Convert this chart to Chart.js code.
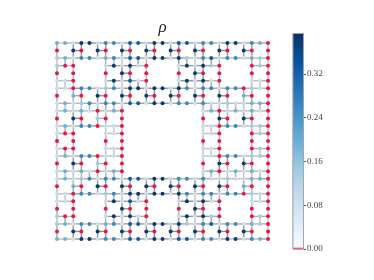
<!DOCTYPE html>
<html>
<head>
<meta charset="utf-8">
<script src="https://cdn.jsdelivr.net/npm/chart.js@4"></script>
<style>
  html, body { margin: 0; padding: 0; background: #fff; }
  #wrap { width: 374px; height: 280px; }
</style>
</head>
<body>
<div id="wrap"><canvas id="rhoChart" width="374" height="280"></canvas></div>
<script>
// density on the carpet lattice, one list per lattice row, _ = no site
const _ = null;
const row0  = [.19,.19,.09,.38,.38,.09,.26,.26,.09,.33,.33,.09,.38,.38,.09,.33,.33,.09,.26,.26,.09,.38,.38,.09,.26,.19,0];
const row1  = [0,_,.38,0,_,.38,0,_,.38,0,_,.38,0,_,.38,0,_,.38,0,_,.38,0,_,.38,0,_,0];
const row2  = [.14,.19,.09,.26,.26,.09,.19,.26,.09,.33,.33,.09,.38,.38,.09,.38,.14,.09,.26,.33,.09,.26,.26,.09,.19,.14,0];
const row3  = [.14,0,0,_,_,_,.09,.38,.09,.38,.09,0,_,_,_,.09,.38,.09,.38,.14,0,_,_,_,0,.14,0];
const row4  = [0,_,0,_,_,_,0,_,.38,0,_,0,_,_,_,0,_,.38,0,_,0,_,_,_,0,_,0];
const row5  = [.09,.09,0,_,_,_,.09,.38,.09,.33,.09,0,_,_,_,.09,.38,.09,.38,.09,0,_,_,_,.09,.09,0];
const row6  = [.09,.09,0,.26,.26,.09,.14,.26,.09,.38,.38,.09,.38,.38,.09,.38,.26,.09,.26,.26,.09,.26,.26,0,.14,.09,0];
const row7  = [0,_,.19,0,_,.38,0,_,.38,0,_,.38,0,_,.38,0,_,.38,0,_,.38,0,_,.19,0,_,0];
const row8  = [.09,.19,.09,.14,.26,.09,.26,.26,.09,.33,.33,.09,.38,.38,.09,.26,.26,.09,.26,.09,.09,.14,.09,.09,.19,.19,0];
const row9  = [.09,.19,.09,.19,.09,0,.09,.19,0,_,_,_,_,_,_,_,_,_,.09,.19,0,.09,.19,.09,.19,.09,0];
const row10 = [0,_,.38,0,_,.14,0,_,0,_,_,_,_,_,_,_,_,_,0,_,.38,0,_,.38,0,_,0];
const row11 = [.09,.19,.09,.26,.26,0,.09,.09,0,_,_,_,_,_,_,_,_,_,.09,.09,0,.26,.26,.09,.14,.14,0];
const row12 = [.09,0,0,_,_,_,.09,.09,0,_,_,_,_,_,_,_,_,_,.09,.09,0,_,_,_,0,.14,0];
const row13 = [0,_,0,_,_,_,0,_,0,_,_,_,_,_,_,_,_,_,0,_,0,_,_,_,0,_,0];
const row14 = [.09,0,0,_,_,_,.09,.09,0,_,_,_,_,_,_,_,_,_,.09,.09,0,_,_,_,0,.14,0];
const row15 = [.09,.19,.09,.26,.26,0,.09,.09,0,_,_,_,_,_,_,_,_,_,.09,.09,0,.26,.26,.09,.14,.14,0];
const row16 = [0,_,.38,0,_,.14,0,_,0,_,_,_,_,_,_,_,_,_,0,_,.38,0,_,.38,0,_,0];
const row17 = [.09,.19,.09,.19,.09,0,.09,.19,0,_,_,_,_,_,_,_,_,_,.09,.19,0,.09,.19,.09,.19,.09,0];
const row18 = [.09,.19,.09,.14,.26,.09,.26,.26,.09,.33,.33,.09,.38,.38,.09,.26,.26,.09,.26,.09,.09,.14,.09,.09,.19,.19,0];
const row19 = [0,_,.19,0,_,.38,0,_,.38,0,_,.38,0,_,.38,0,_,.38,0,_,.38,0,_,.19,0,_,0];
const row20 = [.09,.09,0,.26,.26,.09,.14,.26,.09,.38,.38,.09,.38,.38,.09,.38,.26,.09,.26,.26,.09,.26,.26,0,.14,.09,0];
const row21 = [.09,.09,0,_,_,_,.09,.38,.09,.33,.09,0,_,_,_,.09,.38,.09,.38,.09,0,_,_,_,.09,.09,0];
const row22 = [0,_,0,_,_,_,0,_,.38,0,_,0,_,_,_,0,_,.38,0,_,0,_,_,_,0,_,0];
const row23 = [.14,0,0,_,_,_,.09,.38,.09,.38,.09,0,_,_,_,.09,.38,.09,.38,.14,0,_,_,_,0,.14,0];
const row24 = [.14,.19,.09,.26,.26,.09,.19,.26,.09,.33,.33,.09,.38,.38,.09,.38,.14,.09,.26,.33,.09,.26,.26,.09,.19,.14,0];
const row25 = [0,_,.38,0,_,.38,0,_,.38,0,_,.38,0,_,.38,0,_,.38,0,_,.38,0,_,.38,0,_,0];
const row26 = [.19,.19,.09,.38,.38,.09,.26,.26,.09,.33,.33,.09,.38,.38,.09,.33,.33,.09,.26,.26,.09,.38,.38,.09,.26,.19,0];
const rows = [row0,row1,row2,row3,row4,row5,row6,row7,row8,row9,row10,row11,row12,row13,
  row14,row15,row16,row17,row18,row19,row20,row21,row22,row23,row24,row25,row26];

const barTicks = [0, 0.08, 0.16, 0.24, 0.32];
const barMax = 0.395;
const blues = ['#f7fbff','#deebf7','#c6dbef','#9ecae1','#6baed6','#4292c6','#2171b5','#08519c','#08306b'];
const zeroColor = '#e6174a';

function hexToRgb(h) {
  return [1, 3, 5].map(i => parseInt(h.slice(i, i + 2), 16));
}

function bluesAt(v) {
  const t = Math.min(v / barMax, 1) * (blues.length - 1);
  const i = Math.min(Math.floor(t), blues.length - 2);
  const a = hexToRgb(blues[i]), b = hexToRgb(blues[i + 1]);
  const c = a.map((n, k) => Math.round(n + (b[k] - n) * (t - i)));
  return `rgb(${c[0]},${c[1]},${c[2]})`;
}

// sites
const points = [];
rows.forEach((r, y) => r.forEach((v, x) => { if (v !== null) points.push({ x, y, v }); }));

// lattice bonds: nulls break the line
const hLine = [];
rows.forEach((r, y) => {
  r.forEach((v, x) => hLine.push(v === null ? { x, y: null } : { x, y }));
  hLine.push({ x: 26, y: null });
});
const vLine = [];
for (let x = 0; x < 27; x++) {
  rows.forEach((r, y) => vLine.push(r[x] === null ? { x: null, y } : { x, y }));
  vLine.push({ x: null, y: 26 });
}

// bonds get darker the more the density changes across them
function bondColor(ctx) {
  const d = ctx.chart.data.datasets[ctx.datasetIndex].data;
  const a = d[ctx.p0DataIndex], b = d[ctx.p1DataIndex];
  const diff = Math.abs(rows[a.y][a.x] - rows[b.y][b.x]);
  const g = Math.round(192 - diff * 130);
  return `rgb(${g},${g},${g + 3})`;
}

const bondStyle = {
  type: 'line', showLine: true, pointRadius: 0, borderWidth: 1.4, clip: false, spanGaps: false,
  borderColor: '#aaa', segment: { borderColor: bondColor }, xAxisID: 'x', yAxisID: 'y', order: 3
};

new Chart(document.getElementById('rhoChart'), {
  type: 'scatter',
  data: {
    datasets: [
      Object.assign({ data: hLine }, bondStyle),
      Object.assign({ data: vLine }, bondStyle),
      {
        data: points,
        pointRadius: 2,
        borderWidth: 0,
        clip: false,
        order: 1,
        backgroundColor: ctx => {
          const p = ctx.raw;
          if (!p) return zeroColor;
          return p.v === 0 ? zeroColor : bluesAt(p.v);
        }
      },
      {
        // colour bar
        type: 'bar',
        data: [{ x: 29.72, y: [0, barMax] }],
        yAxisID: 'yBar',
        barThickness: 11.5,
        order: 2,
        borderColor: '#a4a4aa',
        borderWidth: 1.3,
        borderSkipped: false,
        backgroundColor: ctx => {
          const { chartArea, scales } = ctx.chart;
          if (!chartArea) return blues[0];
          const g = ctx.chart.ctx.createLinearGradient(0, scales.yBar.getPixelForValue(0), 0, scales.yBar.getPixelForValue(barMax));
          blues.forEach((c, i) => g.addColorStop(i / (blues.length - 1), c));
          return g;
        }
      }
    ]
  },
  plugins: [{
    id: 'barFoot',
    afterLayout(chart) {
      // title sits over the lattice, not over the whole area
      const t = chart.titleBlock;
      t.left = chart.scales.x.getPixelForValue(0);
      t.right = chart.scales.x.getPixelForValue(26);
      t.top += 13;
      t.bottom += 13;
    },
    afterDatasetsDraw(chart) {
      // red "under" sliver at the foot of the bar
      const { ctx, scales } = chart;
      const y = scales.yBar.getPixelForValue(0);
      ctx.save();
      ctx.strokeStyle = zeroColor;
      ctx.lineWidth = 1;
      ctx.beginPath();
      ctx.moveTo(scales.x.getPixelForValue(29.72) - 5.5, y);
      ctx.lineTo(scales.x.getPixelForValue(29.72) + 5.5, y);
      ctx.stroke();
      ctx.restore();
    }
  }],
  options: {
    responsive: false,
    animation: false,
    layout: { padding: { left: 57, right: 0, top: 0, bottom: 31 } },
    scales: {
      x: { type: 'linear', display: false, offset: false, min: 0, max: 30.43 },
      y: { type: 'linear', display: false, reverse: true, min: -1.33, max: 27.33 },
      yBar: {
        type: 'linear',
        position: 'right',
        min: 0,
        max: barMax,
        border: { display: false },
        grid: { display: true, drawOnChartArea: false, drawTicks: true, tickLength: 2, color: '#555', offset: false },
        afterBuildTicks: axis => { axis.ticks = barTicks.map(value => ({ value })); },
        afterFit: axis => { axis.width = 70; },
        ticks: {
          padding: 1,
          color: '#444',
          font: { family: 'Liberation Serif', size: 9 },
          callback: v => v.toFixed(2)
        }
      }
    },
    plugins: {
      legend: { display: false },
      tooltip: { enabled: false },
      title: {
        display: true,
        text: 'ρ',
        fullSize: false,
        color: '#222',
        font: { family: 'Liberation Serif', size: 17, style: 'italic', weight: 'normal', lineHeight: 1 },
        padding: { top: 6, bottom: 10 }
      }
    }
  }
});
</script>
</body>
</html>
